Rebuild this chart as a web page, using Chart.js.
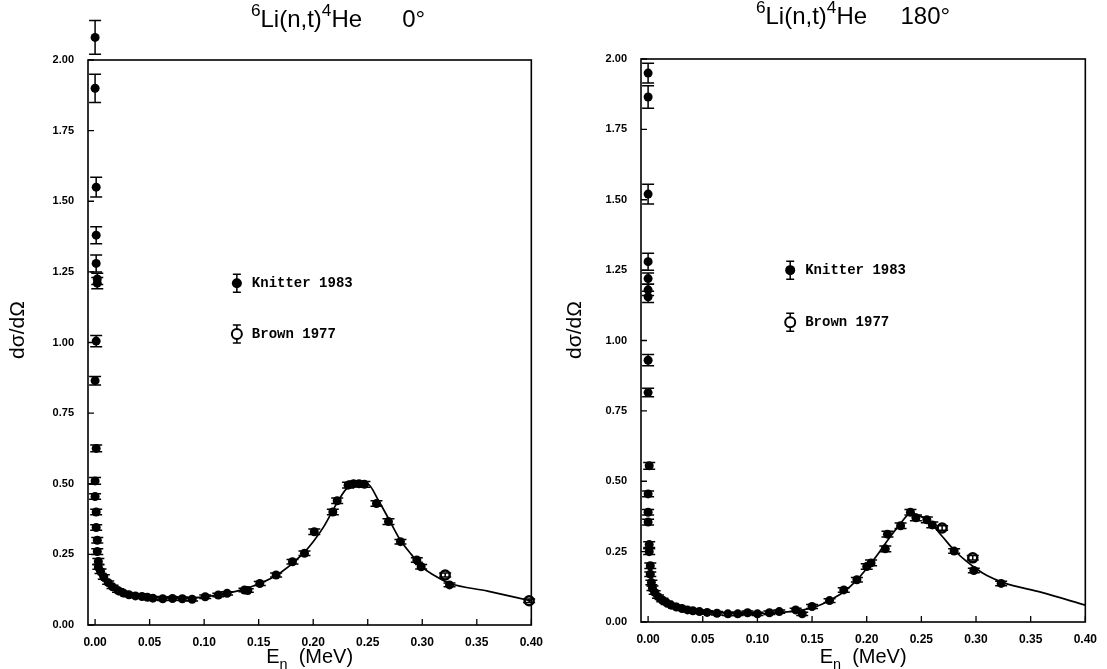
<!DOCTYPE html>
<html>
<head>
<meta charset="utf-8">
<script src="https://cdn.jsdelivr.net/npm/chart.js@4.4.0/dist/chart.umd.min.js"></script>
<style>
  body { margin: 0; background: #fff; }
  #wrap { position: relative; width: 1107px; height: 669px; }
  .panel { position: absolute; top: 0; height: 669px; }
</style>
</head>
<body>
<div id="wrap">
  <div class="panel" style="left:0;width:553px"><canvas id="left"></canvas></div>
  <div class="panel" style="left:553px;width:554px"><canvas id="right"></canvas></div>
</div>
<script>
// tick labels
const xTicks = [0, 0.05, 0.10, 0.15, 0.20, 0.25, 0.30, 0.35, 0.40];
const yTicks = [0, 0.25, 0.50, 0.75, 1.00, 1.25, 1.50, 1.75, 2.00];

// 0 degrees - Knitter 1983
const leftKnitX = [0.000, 0.000, 0.001, 0.001, 0.001, 0.002, 0.002, 0.001, 0.000, 0.001, 0.000, 0.000, 0.001, 0.001, 0.002, 0.002, 0.003, 0.003,
  0.005, 0.008, 0.012, 0.016, 0.021, 0.026, 0.031, 0.037, 0.043, 0.048, 0.053, 0.062, 0.071, 0.080, 0.089, 0.101, 0.113, 0.121, 0.137, 0.140,
  0.151, 0.166, 0.181, 0.192, 0.201, 0.218, 0.222, 0.232, 0.237, 0.242, 0.247, 0.258, 0.269, 0.280, 0.295, 0.299, 0.325];
const leftKnitY = [2.08, 1.90, 1.55, 1.38, 1.28, 1.225, 1.21, 1.005, 0.865, 0.625, 0.51, 0.455, 0.40, 0.345, 0.30, 0.26, 0.225, 0.205,
  0.19, 0.17, 0.15, 0.135, 0.122, 0.113, 0.107, 0.103, 0.101, 0.098, 0.095, 0.093, 0.094, 0.093, 0.091, 0.100, 0.106, 0.112, 0.124, 0.122,
  0.147, 0.177, 0.224, 0.254, 0.330, 0.400, 0.440, 0.495, 0.500, 0.500, 0.498, 0.430, 0.366, 0.295, 0.230, 0.206, 0.142];
const leftKnitErr = [0.06, 0.05, 0.035, 0.03, 0.03, 0.02, 0.02, 0.02, 0.015, 0.012, 0.012, 0.01, 0.01, 0.01, 0.01, 0.01, 0.01, 0.008,
  0.008, 0.008, 0.006, 0.006, 0.006, 0.006, 0.006, 0.006, 0.006, 0.006, 0.006, 0.006, 0.006, 0.006, 0.006, 0.006, 0.006, 0.006, 0.006, 0.006,
  0.007, 0.007, 0.008, 0.008, 0.01, 0.01, 0.01, 0.01, 0.01, 0.01, 0.01, 0.01, 0.01, 0.008, 0.008, 0.008, 0.007];
// 0 degrees - Brown 1977
const leftBrownX = [0.321, 0.398];
const leftBrownY = [0.177, 0.086];
const leftBrownErr = [0.007, 0.006];
// 0 degrees - fitted curve
const leftCurveX = [0, 0.005, 0.01, 0.02, 0.03, 0.04, 0.05, 0.07, 0.09, 0.11, 0.13, 0.15, 0.17, 0.19, 0.20, 0.21, 0.22, 0.23, 0.24, 0.25, 0.26, 0.27, 0.28, 0.29, 0.30, 0.31, 0.325, 0.36, 0.40];
const leftCurveY = [0.21, 0.17, 0.15, 0.125, 0.112, 0.104, 0.099, 0.095, 0.096, 0.105, 0.12, 0.145, 0.185, 0.25, 0.295, 0.35, 0.42, 0.48, 0.505, 0.50, 0.44, 0.37, 0.30, 0.25, 0.205, 0.178, 0.148, 0.12, 0.085];

// 180 degrees - Knitter 1983
const rightKnitX = [0.000, 0.000, 0.000, 0.000, 0.000, 0.000, 0.000, 0.000, 0.000, 0.001, 0.000, 0.000, 0.000, 0.001, 0.001, 0.002, 0.002, 0.003,
  0.004, 0.006, 0.009, 0.013, 0.017, 0.021, 0.026, 0.031, 0.036, 0.041, 0.047, 0.054, 0.063, 0.073, 0.082, 0.091, 0.100, 0.111, 0.120, 0.135, 0.141,
  0.150, 0.166, 0.179, 0.191, 0.200, 0.204, 0.217, 0.219, 0.231, 0.240, 0.245, 0.255, 0.260, 0.280, 0.298, 0.323];
const rightKnitY = [1.95, 1.865, 1.52, 1.28, 1.22, 1.18, 1.155, 0.93, 0.815, 0.555, 0.455, 0.39, 0.355, 0.275, 0.25, 0.20, 0.17, 0.14,
  0.12, 0.105, 0.09, 0.078, 0.068, 0.06, 0.053, 0.048, 0.043, 0.040, 0.037, 0.034, 0.031, 0.029, 0.029, 0.033, 0.029, 0.033, 0.037, 0.043, 0.029,
  0.055, 0.076, 0.114, 0.150, 0.197, 0.210, 0.260, 0.312, 0.342, 0.390, 0.370, 0.363, 0.345, 0.252, 0.183, 0.137];
const rightKnitErr = [0.035, 0.04, 0.035, 0.03, 0.02, 0.02, 0.02, 0.02, 0.015, 0.012, 0.01, 0.01, 0.01, 0.01, 0.01, 0.01, 0.008, 0.008,
  0.008, 0.006, 0.006, 0.006, 0.006, 0.006, 0.006, 0.006, 0.006, 0.006, 0.006, 0.006, 0.006, 0.006, 0.006, 0.006, 0.006, 0.006, 0.006, 0.006, 0.006,
  0.007, 0.007, 0.008, 0.008, 0.01, 0.01, 0.01, 0.01, 0.01, 0.01, 0.01, 0.01, 0.01, 0.008, 0.008, 0.008];
// 180 degrees - Brown 1977
const rightBrownX = [0.269, 0.297];
const rightBrownY = [0.334, 0.228];
const rightBrownErr = [0.008, 0.008];
// 180 degrees - fitted curve
const rightCurveX = [0, 0.005, 0.01, 0.02, 0.03, 0.04, 0.05, 0.07, 0.09, 0.11, 0.13, 0.14, 0.15, 0.16, 0.17, 0.18, 0.19, 0.20, 0.21, 0.22, 0.23, 0.24, 0.25, 0.26, 0.27, 0.28, 0.29, 0.30, 0.31, 0.325, 0.36, 0.40];
const rightCurveY = [0.13, 0.10, 0.085, 0.065, 0.052, 0.044, 0.038, 0.032, 0.030, 0.031, 0.037, 0.042, 0.050, 0.065, 0.085, 0.110, 0.145, 0.190, 0.240, 0.295, 0.345, 0.385, 0.375, 0.345, 0.300, 0.255, 0.220, 0.190, 0.165, 0.140, 0.105, 0.060];

function pts(xs, ys) {
  return xs.map((x, i) => ({ x: x, y: ys[i] }));
}

// vertical error bars with caps (also draws points that sit above the frame)
const errorBars = {
  id: 'errorBars',
  afterDatasetsDraw(chart) {
    const ctx = chart.ctx, sx = chart.scales.x, sy = chart.scales.y, a = chart.chartArea;
    ctx.save();
    ctx.strokeStyle = '#000';
    ctx.fillStyle = '#000';
    ctx.lineWidth = 1.5;
    chart.data.datasets.forEach(ds => {
      if (!ds.err) return;
      ds.data.forEach((p, i) => {
        const px = sx.getPixelForValue(p.x);
        const py = sy.getPixelForValue(p.y);
        const lo = sy.getPixelForValue(p.y - ds.err[i]);
        const hi = sy.getPixelForValue(p.y + ds.err[i]);
        ctx.beginPath();
        ctx.moveTo(px, lo); ctx.lineTo(px, hi);
        ctx.moveTo(px - 6, lo); ctx.lineTo(px + 6, lo);
        ctx.moveTo(px - 6, hi); ctx.lineTo(px + 6, hi);
        ctx.stroke();
        if (py < a.top - 2) {
          ctx.beginPath();
          ctx.arc(px, py, 4.5, 0, Math.PI * 2);
          ctx.fill();
        }
      });
    });
    ctx.restore();
  }
};

function richText(ctx, parts, x, y, size) {
  let w = 0;
  parts.forEach(p => {
    ctx.font = (p.sup || p.sub ? size * 0.72 : size) + 'px "Liberation Sans", Arial, sans-serif';
    w += ctx.measureText(p.t).width;
  });
  let cx = x - w / 2;
  parts.forEach(p => {
    ctx.font = (p.sup || p.sub ? size * 0.72 : size) + 'px "Liberation Sans", Arial, sans-serif';
    const dy = p.sup ? -size * 0.45 : (p.sub ? size * 0.3 : 0);
    ctx.fillText(p.t, cx, y + dy);
    cx += ctx.measureText(p.t).width;
  });
}

// frame, inward ticks, titles and legend
const decor = {
  id: 'decor',
  afterDraw(chart, args, o) {
    const ctx = chart.ctx, a = chart.chartArea, sx = chart.scales.x, sy = chart.scales.y;
    ctx.save();
    ctx.strokeStyle = '#000';
    ctx.fillStyle = '#000';
    ctx.lineWidth = 1.6;
    ctx.strokeRect(a.left, a.top, a.right - a.left, a.bottom - a.top);
    ctx.lineWidth = 1.3;
    ctx.beginPath();
    xTicks.forEach(v => {
      const px = sx.getPixelForValue(v);
      ctx.moveTo(px, a.bottom); ctx.lineTo(px, a.bottom - 6);
    });
    yTicks.forEach(v => {
      const py = sy.getPixelForValue(v);
      ctx.moveTo(a.left, py); ctx.lineTo(a.left + 6, py);
    });
    ctx.stroke();

    ctx.textBaseline = 'alphabetic';
    ctx.textAlign = 'left';
    richText(ctx, [{ t: '6', sup: true }, { t: 'Li(n,t)' }, { t: '4', sup: true }, { t: 'He' }, { t: o.gap + o.angle }], o.titleX, o.titleY, 24);
    richText(ctx, [{ t: 'E' }, { t: 'n', sub: true }, { t: '  (MeV)' }], (a.left + a.right) / 2, 663, 20);

    ctx.save();
    ctx.translate(o.yTitleX, 330);
    ctx.rotate(-Math.PI / 2);
    ctx.textAlign = 'center';
    ctx.font = '21px "Liberation Sans", Arial, sans-serif';
    ctx.fillText('d\u03c3/d\u03a9', 0, 0);
    ctx.restore();

    // legend
    const lx = sx.getPixelForValue(o.legX);
    [['Knitter 1983', o.legY1, true], ['Brown 1977', o.legY2, false]].forEach(([label, ly, filled]) => {
      const py = sy.getPixelForValue(ly);
      ctx.lineWidth = 1.5;
      ctx.beginPath();
      ctx.moveTo(lx, py - 9); ctx.lineTo(lx, py + 9);
      ctx.moveTo(lx - 4, py - 9); ctx.lineTo(lx + 4, py - 9);
      ctx.moveTo(lx - 4, py + 9); ctx.lineTo(lx + 4, py + 9);
      ctx.stroke();
      ctx.beginPath();
      ctx.arc(lx, py, 5, 0, Math.PI * 2);
      if (filled) ctx.fill();
      else { ctx.fillStyle = '#fff'; ctx.fill(); ctx.fillStyle = '#000'; ctx.lineWidth = 2; ctx.stroke(); }
      ctx.font = 'bold 14px "Liberation Mono", "Courier New", monospace';
      ctx.textBaseline = 'middle';
      ctx.fillText(label, lx + 15, py);
      ctx.textBaseline = 'alphabetic';
    });
    ctx.restore();
  }
};

function makePanel(id, knit, brown, curve, deco, pad) {
  const tickFont = { family: '"Liberation Sans", Arial, sans-serif', weight: 'bold' };
  new Chart(document.getElementById(id), {
    type: 'scatter',
    data: {
      datasets: [
        { data: curve, showLine: true, pointRadius: 0, borderColor: '#000', borderWidth: 1.7,
          cubicInterpolationMode: 'monotone', clip: false },
        { data: knit.data, err: knit.err, pointRadius: 4.5, backgroundColor: '#000', borderColor: '#000',
          borderWidth: 0, clip: false },
        { data: brown.data, err: brown.err, pointRadius: 4.5, backgroundColor: '#fff', borderColor: '#000',
          borderWidth: 2.5, clip: false }
      ]
    },
    options: {
      responsive: false,
      animation: false,
      layout: { padding: pad },
      plugins: { legend: { display: false }, tooltip: { enabled: false }, decor: deco },
      scales: {
        x: {
          type: 'linear', min: -0.0065, max: 0.40,
          afterBuildTicks: s => { s.ticks = xTicks.map(v => ({ value: v })); },
          afterFit: s => { s.height = 40; },
          grid: { display: false, drawTicks: false }, border: { display: false },
          ticks: { callback: v => v.toFixed(2), color: '#000', padding: 10, maxRotation: 0, autoSkip: false,
            font: Object.assign({ size: 12 }, tickFont) }
        },
        y: {
          type: 'linear', min: 0, max: 2.0,
          afterBuildTicks: s => { s.ticks = yTicks.map(v => ({ value: v })); },
          afterFit: s => { s.width = 48; },
          grid: { display: false, drawTicks: false }, border: { display: false },
          ticks: { callback: v => v.toFixed(2), color: '#000', padding: 14, autoSkip: false,
            font: Object.assign({ size: 11 }, tickFont) }
        }
      }
    },
    plugins: [errorBars, decor]
  });
}

function sizeCanvas(id, w, h) {
  const c = document.getElementById(id);
  c.width = w; c.height = h;
  c.style.width = w + 'px'; c.style.height = h + 'px';
}

sizeCanvas('left', 553, 669);
sizeCanvas('right', 554, 669);

makePanel('left',
  { data: pts(leftKnitX, leftKnitY), err: leftKnitErr },
  { data: pts(leftBrownX, leftBrownY), err: leftBrownErr },
  pts(leftCurveX, leftCurveY),
  { angle: '0\u00b0', gap: '      ', titleX: 338, titleY: 27, yTitleX: 24, legX: 0.13, legY1: 1.21, legY2: 1.03 },
  { left: 40, right: 18, top: 60, bottom: 4 });

makePanel('right',
  { data: pts(rightKnitX, rightKnitY), err: rightKnitErr },
  { data: pts(rightBrownX, rightBrownY), err: rightBrownErr },
  pts(rightCurveX, rightCurveY),
  { angle: '180\u00b0', gap: '     ', titleX: 300, titleY: 24, yTitleX: 28, legX: 0.13, legY1: 1.25, legY2: 1.065 },
  { left: 40, right: 19, top: 59, bottom: 7 });
</script>
</body>
</html>
